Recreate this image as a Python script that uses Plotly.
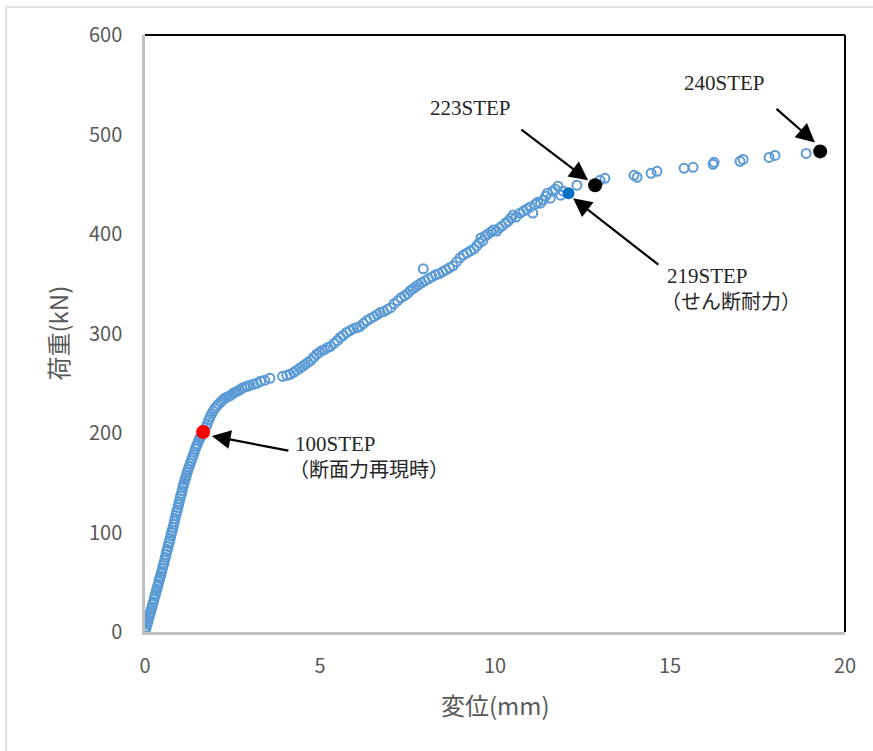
import plotly.graph_objects as go

# ---- data ----
# Load-displacement steps (open markers)
disp_a = [0.00, 0.02, 0.04, 0.06, 0.08, 0.10, 0.12, 0.14, 0.16, 0.18, 0.20, 0.22, 0.24, 0.26, 0.28,
          0.30, 0.32, 0.34, 0.36, 0.38, 0.40, 0.42, 0.44, 0.46, 0.48, 0.50, 0.52, 0.54, 0.56, 0.58,
          0.60, 0.62, 0.64, 0.66, 0.68, 0.70, 0.72, 0.74, 0.76, 0.78, 0.80, 0.82, 0.84, 0.86, 0.88,
          0.90, 0.92, 0.94, 0.96, 0.98, 1.00, 1.02, 1.04, 1.06, 1.08, 1.10, 1.12, 1.14, 1.16, 1.18,
          1.20, 1.23, 1.26, 1.29, 1.32, 1.35, 1.38, 1.41, 1.44, 1.47, 1.50, 1.53, 1.56, 1.59, 1.62]
load_a = [0, 3, 5, 8, 10, 13, 15, 18, 20, 23, 25, 28, 30, 33, 36,
          38, 41, 43, 46, 48, 51, 54, 56, 59, 61, 64, 67, 69, 72, 75,
          78, 81, 83, 86, 89, 91, 94, 97, 100, 102, 105, 108, 111, 114, 117,
          120, 122, 125, 128, 131, 134, 137, 139, 142, 145, 148, 150, 153, 155, 157,
          160, 163, 166, 169, 172, 175, 178, 181, 184, 187, 189, 192, 194, 196, 198]

disp_b = [1.70, 1.74, 1.78, 1.82, 1.86, 1.90, 1.95, 2.00, 2.05, 2.10, 2.16, 2.22, 2.28, 2.34, 2.40,
          2.46, 2.52, 2.58, 2.64, 2.70, 2.77, 2.84, 2.92, 3.00, 3.10, 3.20, 3.30, 3.42, 3.57, 3.93,
          4.05, 4.15, 4.25, 4.33, 4.42, 4.50, 4.58, 4.66, 4.74, 4.82, 4.90, 4.98, 5.06, 5.14, 5.22,
          5.30, 5.40, 5.50, 5.58, 5.66, 5.76, 5.86, 5.96, 6.06, 6.14, 6.24, 6.34, 6.44, 6.54, 6.64,
          6.72, 6.82, 6.92, 7.02, 7.12, 7.22, 7.32, 7.42, 7.50, 7.58, 7.66, 7.74, 7.82, 7.90, 7.95,
          8.00, 8.10, 8.20, 8.30, 8.40, 8.50, 8.60, 8.70, 8.80, 8.90, 9.00, 9.10, 9.20, 9.30, 9.40,
          9.48, 9.55, 9.60, 9.65, 9.72, 9.80, 9.88, 9.95, 10.05, 10.12, 10.20, 10.30, 10.38, 10.45, 10.52,
          10.60, 10.72, 10.82, 10.90, 11.00, 11.08, 11.15, 11.22, 11.30, 11.38, 11.45, 11.50, 11.58, 11.65, 11.72,
          11.80, 11.88, 11.95]
load_b = [203, 206, 209, 213, 216, 219, 222, 225, 227, 229, 231, 233, 235, 236, 237,
          238, 240, 241, 242, 243, 245, 246, 247, 248, 249, 250, 252, 253, 255, 257,
          258, 259, 261, 263, 265, 267, 269, 271, 273, 276, 279, 281, 283, 284, 286,
          287, 290, 293, 296, 298, 301, 303, 305, 306, 307, 310, 313, 315, 317, 319,
          321, 322, 324, 326, 330, 333, 336, 338, 340, 343, 345, 347, 349, 351, 365,
          353, 355, 357, 359, 360, 362, 364, 366, 368, 372, 376, 379, 381, 383, 385,
          388, 391, 396, 393, 398, 400, 402, 404, 403, 406, 408, 411, 413, 416, 419,
          417, 421, 423, 425, 427, 421, 430, 432, 431, 434, 438, 441, 436, 443, 445,
          448, 439, 443]

disp_c = [12.34, 13.00, 13.14, 13.97, 14.06, 14.46, 14.63, 15.40, 15.66, 16.23, 16.26, 17.00, 17.09,
          17.83, 18.00, 18.89]
load_c = [449, 454, 456, 459, 457, 461, 463, 466, 467, 470, 472, 473, 475, 477, 479, 481]

# Highlighted steps
step100 = (1.66, 201)
step219 = (12.10, 441)
step223 = (12.86, 449)
step240 = (19.29, 483)

x_ticks = [0, 5, 10, 15, 20]
y_ticks = [0, 100, 200, 300, 400, 500, 600]

x_title = "変位(mm)"
y_title = "荷重(kN)"

# ---- figure ----
fig = go.Figure()

fig.add_trace(go.Scatter(
    x=disp_a + disp_b + disp_c,
    y=load_a + load_b + load_c,
    mode="markers",
    marker=dict(symbol="circle-open", size=9, color="#5B9BD5", line=dict(width=2.0, color="#5B9BD5")),
    hoverinfo="skip", showlegend=False,
))

fig.add_trace(go.Scatter(x=[step219[0]], y=[step219[1]], mode="markers",
                         marker=dict(symbol="circle", size=12, color="#0070C0"), showlegend=False))
fig.add_trace(go.Scatter(x=[step223[0], step240[0]], y=[step223[1], step240[1]], mode="markers",
                         marker=dict(symbol="circle", size=14, color="#000000"), showlegend=False))
fig.add_trace(go.Scatter(x=[step100[0]], y=[step100[1]], mode="markers",
                         marker=dict(symbol="circle", size=14, color="#FF0000"), showlegend=False))

ann_font = dict(family="Liberation Serif, DejaVu Serif, Noto Sans CJK JP", size=21, color="#262626")
cjk_font = dict(family="Liberation Serif, Noto Sans CJK JP", size=20, color="#262626")

# arrows: (head_x, head_y, tail_x, tail_y)
arrows = [
    (1.91, 197, 4.14, 182),
    (12.66, 454, 10.71, 506),
    (19.14, 492, 18.0, 527),
    (12.23, 436, 14.71, 368),
]
for hx, hy, tx, ty in arrows:
    fig.add_annotation(x=hx, y=hy, ax=tx, ay=ty, xref="x", yref="y", axref="x", ayref="y",
                       text="", showarrow=True, arrowhead=2, arrowsize=1.7, arrowwidth=2.2,
                       arrowcolor="#000000")

labels = [
    ("100STEP", 4.23, 189, "left", ann_font),
    ("（断面力再現時）", 4.05, 163, "left", cjk_font),
    ("223STEP", 9.29, 527, "center", ann_font),
    ("240STEP", 16.57, 552, "center", ann_font),
    ("219STEP", 14.86, 358, "left", ann_font),
    ("（せん断耐力）", 14.68, 332, "left", cjk_font),
]
for txt, lx, ly, anchor, fnt in labels:
    fig.add_annotation(x=lx, y=ly, xref="x", yref="y", text=txt, showarrow=False,
                       xanchor=anchor, yanchor="middle", font=fnt)

axis_font = dict(family="Noto Sans CJK JP, Noto Sans", size=20, color="#595959")
title_font = dict(family="Noto Sans CJK JP, Noto Sans", size=24, color="#595959")

fig.add_annotation(x=0.5, y=(632 - 705) / 597, xref="paper", yref="paper", text=x_title,
                   showarrow=False, font=title_font, xanchor="center", yanchor="middle")
fig.add_annotation(x=(57 - 145) / 700, y=0.5, xref="paper", yref="paper", text=y_title,
                   showarrow=False, font=title_font, textangle=-90, xanchor="center", yanchor="middle")

# frame lines: black top/right, outer light border
fig.add_shape(type="line", xref="paper", yref="paper", x0=0, x1=1, y0=1, y1=1,
              line=dict(color="#000000", width=2))
fig.add_shape(type="line", xref="paper", yref="paper", x0=1, x1=1, y0=0, y1=1,
              line=dict(color="#000000", width=2))
fig.add_shape(type="rect", xref="paper", yref="paper", x0=(6 - 145) / 700, x1=1.2,
              y0=-0.4, y1=(632 - 7) / 597, line=dict(color="#D9D9D9", width=1.5))

fig.update_xaxes(range=[0, 20], tickvals=x_ticks, showgrid=False, zeroline=False,
                 showline=True, linecolor="#BFBFBF", linewidth=2.5,
                 ticks="outside", ticklen=14, tickcolor="rgba(0,0,0,0)", tickfont=axis_font)
fig.update_yaxes(range=[0, 600], tickvals=y_ticks, showgrid=False, zeroline=False,
                 showline=True, linecolor="#BFBFBF", linewidth=2.5,
                 ticks="outside", ticklen=16, tickcolor="rgba(0,0,0,0)", tickfont=axis_font)

fig.update_layout(
    width=873, height=751,
    margin=dict(l=145, r=28, t=35, b=119),
    plot_bgcolor="white", paper_bgcolor="white",
    showlegend=False,
)

fig.write_html("out.html", config={"displayModeBar": False},
               post_script="document.body.style.margin='0px';document.body.style.overflow='hidden';")
